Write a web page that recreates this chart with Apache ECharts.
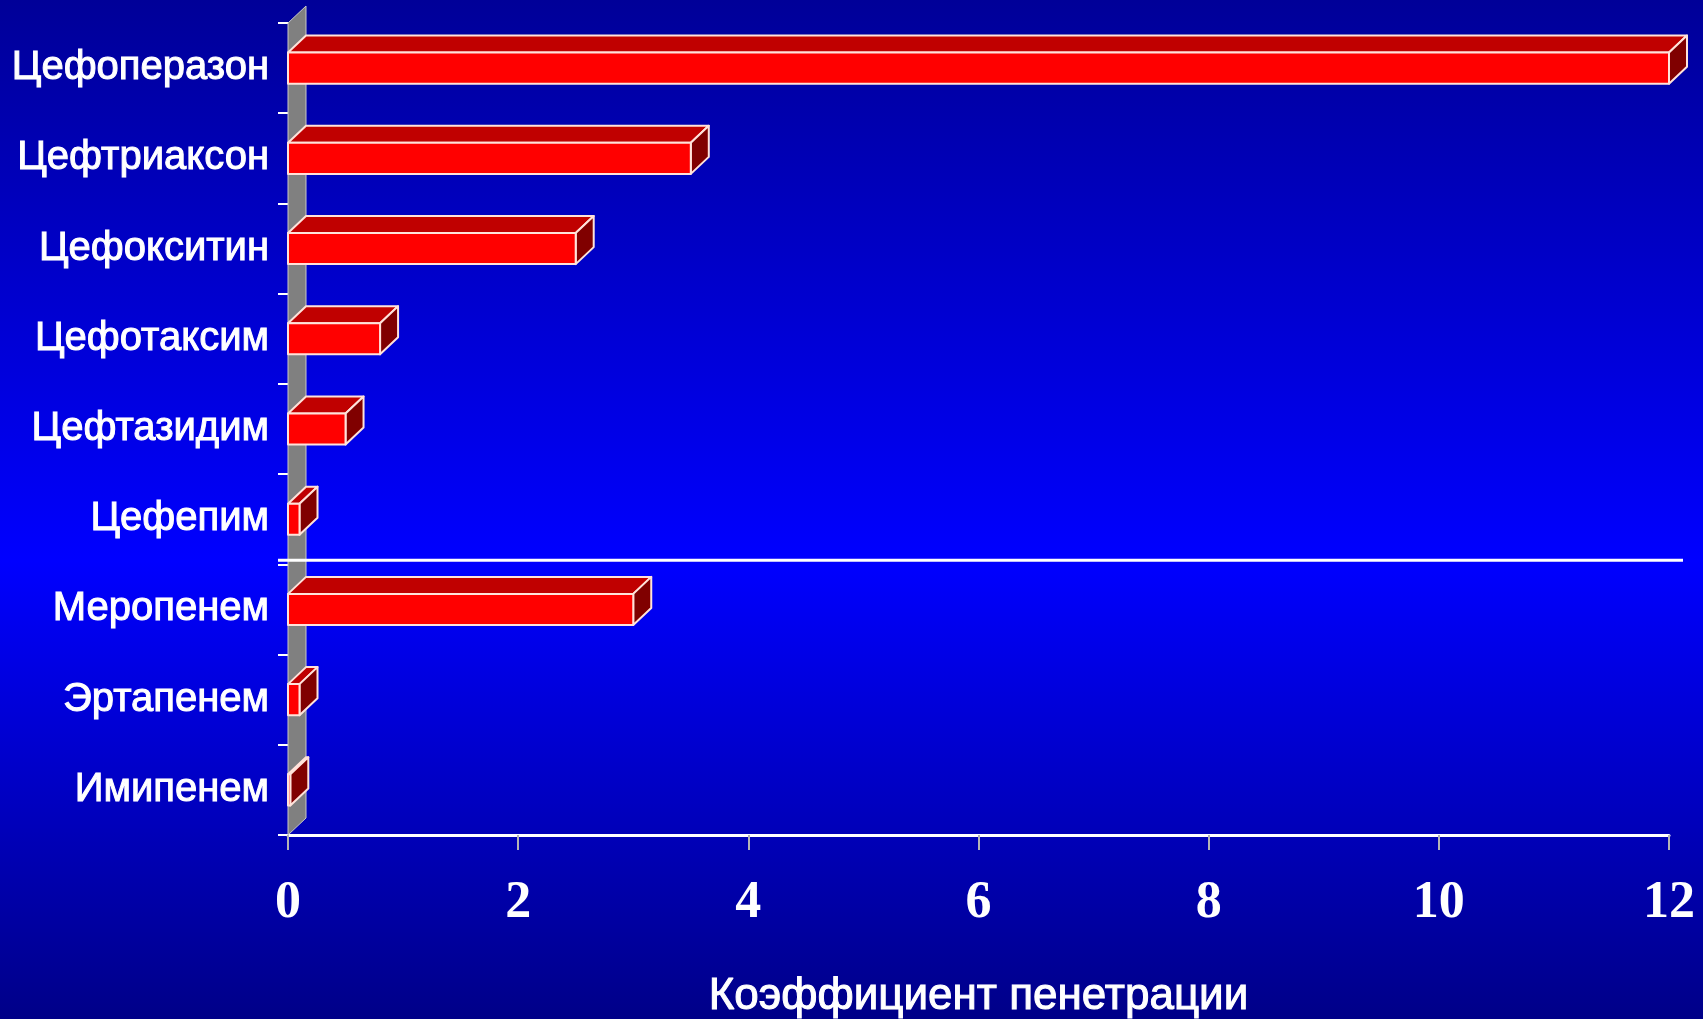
<!DOCTYPE html>
<html>
<head>
<meta charset="utf-8">
<title>Коэффициент пенетрации</title>
<script src="https://cdn.jsdelivr.net/npm/echarts@6/dist/echarts.min.js"></script>
<style>
  html, body { margin: 0; padding: 0; background: #00009a; }
  #chart { width: 1703px; height: 1019px; }
</style>
</head>
<body>
<div id="chart"></div>
<script>
// Antibiotics, top to bottom
const categories = [
  'Цефоперазон', 'Цефтриаксон', 'Цефокситин', 'Цефотаксим', 'Цефтазидим',
  'Цефепим', 'Меропенем', 'Эртапенем', 'Имипенем'
];
// Penetration coefficient per antibiotic
const values = [12, 3.5, 2.5, 0.8, 0.5, 0.1, 3.0, 0.1, 0.02];
// Cephalosporins and carbapenems are split by a line after this item
const groupBreakAfter = 'Цефепим';
const axisTitle = 'Коэффициент пенетрации';
const xTicks = { min: 0, max: 12, interval: 2 };

// pseudo-3D depth offset of the boxes
const DX = 18, DY = -17;
const EDGE = '#ffe2da';

function renderBox(params, api) {
  const cat = api.value(1);
  const val = api.value(0);
  const start = api.coord([0, cat]);
  const end = api.coord([val, cat]);
  const band = api.size([0, 1])[1];
  const h = band * 0.345;
  const x0 = start[0], x1 = end[0];
  const yT = start[1] - h / 2, yB = start[1] + h / 2;
  const common = { stroke: EDGE, lineWidth: 2, lineJoin: 'round' };
  return {
    type: 'group',
    children: [
      { type: 'polygon', shape: { points: [[x0, yT], [x0 + DX, yT + DY], [x1 + DX, yT + DY], [x1, yT]] },
        style: Object.assign({ fill: '#c00000' }, common) },
      { type: 'polygon', shape: { points: [[x1, yT], [x1 + DX, yT + DY], [x1 + DX, yB + DY], [x1, yB]] },
        style: Object.assign({ fill: '#800000' }, common) },
      { type: 'rect', shape: { x: x0, y: yT, width: Math.max(x1 - x0, 0.5), height: h },
        style: Object.assign({ fill: '#ff0000' }, common) }
    ]
  };
}

// grey back wall along the category axis plus the group separator
function renderWall(params, api) {
  const cs = params.coordSys;
  const x = cs.x, y = cs.y, hgt = cs.height;
  const band = api.size([0, 1])[1];
  const idx = categories.indexOf(groupBreakAfter);
  const sepY = api.coord([0, idx])[1] + band / 2 - 4;
  return {
    type: 'group',
    children: [
      { type: 'polygon', shape: { points: [[x, y], [x + DX, y + DY], [x + DX, y + hgt + DY], [x, y + hgt]] },
        style: { fill: '#808080', stroke: '#c8c8c8', lineWidth: 1 } },
      { type: 'line', shape: { x1: x - 10, y1: sepY, x2: x + cs.width + 14, y2: sepY },
        style: { stroke: '#ffffff', lineWidth: 3 } }
    ]
  };
}

const chart = echarts.init(document.getElementById('chart'), null, { renderer: 'canvas' });
chart.setOption({
  animation: false,
  backgroundColor: {
    type: 'linear', x: 0, y: 0, x2: 0, y2: 1,
    colorStops: [
      { offset: 0, color: '#000098' },
      { offset: 0.55, color: '#0000ff' },
      { offset: 1, color: '#000088' }
    ]
  },
  grid: {
    left: 288, right: 34, top: 23, bottom: 184,
    containLabel: false, outerBoundsMode: 'none'
  },
  xAxis: {
    type: 'value',
    min: xTicks.min, max: xTicks.max, interval: xTicks.interval,
    axisLine: { show: true, lineStyle: { color: '#ffffff', width: 3 } },
    axisTick: { show: true, length: 15, lineStyle: { color: '#b4b4b4', width: 2 } },
    splitLine: { show: false },
    axisLabel: {
      color: '#ffffff', fontFamily: 'Liberation Serif', fontWeight: 'bold',
      fontSize: 52, margin: 43
    },
    name: axisTitle,
    nameLocation: 'middle',
    nameGap: 140,
    nameTextStyle: {
      color: '#ffffff', fontFamily: 'Liberation Sans', fontSize: 44,
      textBorderColor: '#ffffff', textBorderWidth: 1
    }
  },
  yAxis: {
    type: 'category',
    inverse: true,
    data: categories,
    axisLine: { show: false },
    axisTick: { show: true, length: 10, lineStyle: { color: '#ffffff', width: 2 } },
    axisLabel: {
      color: '#ffffff', fontFamily: 'Liberation Sans', fontSize: 40, margin: 19,
      textBorderColor: '#ffffff', textBorderWidth: 1
    }
  },
  series: [
    {
      type: 'custom',
      renderItem: renderWall,
      data: [[0, 0]],
      encode: { x: 0, y: 1 },
      z: 1,
      silent: true
    },
    {
      type: 'custom',
      renderItem: renderBox,
      data: values.map((v, i) => [v, i]),
      encode: { x: 0, y: 1 },
      z: 2
    }
  ]
});
</script>
</body>
</html>
